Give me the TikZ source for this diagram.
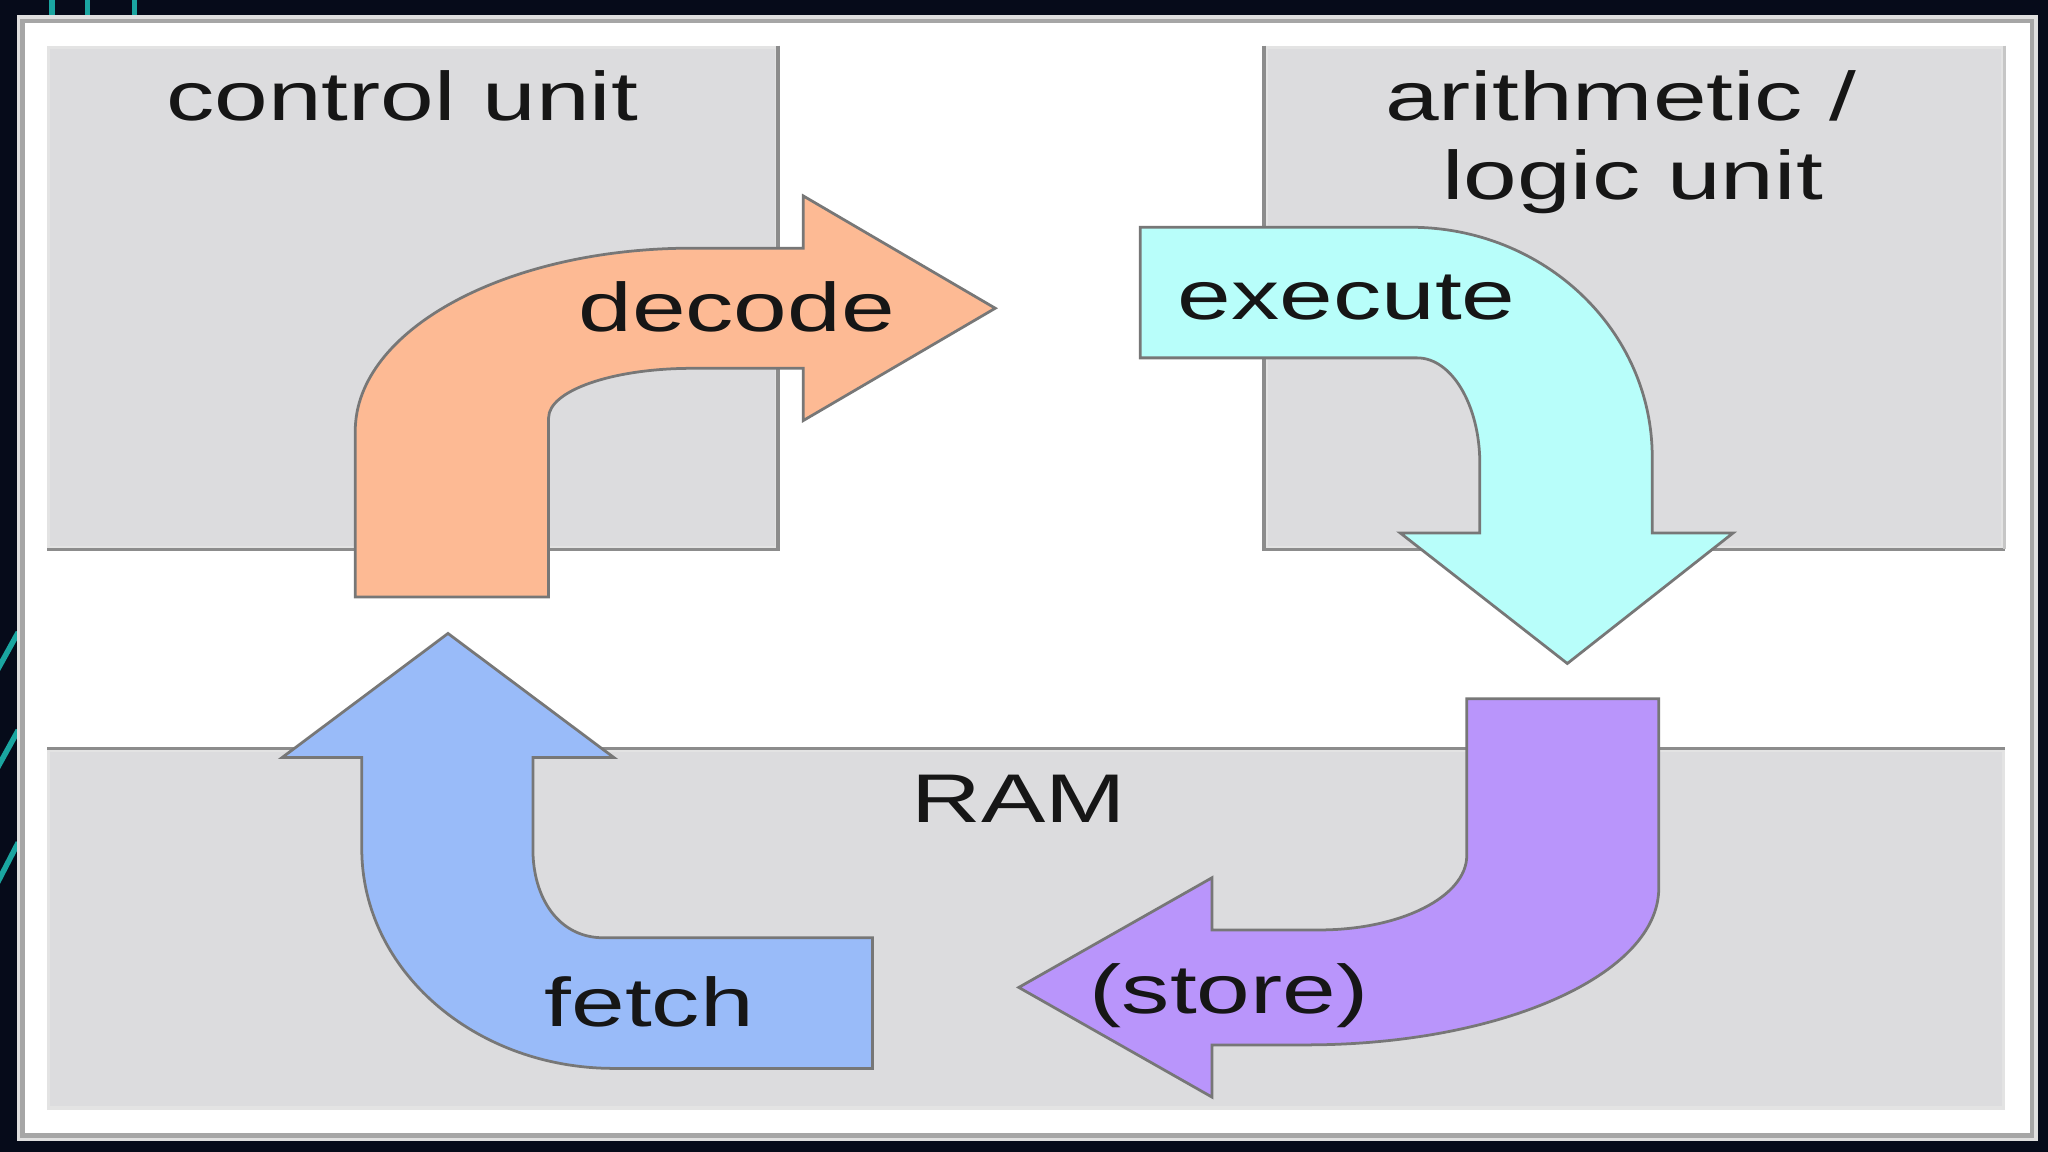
\documentclass[tikz,border=0pt]{standalone}
\usepackage{fontspec}
\setmainfont{Liberation Sans}
\definecolor{navy}{HTML}{060B1A}
\definecolor{teal2}{HTML}{1AA5A0}
\definecolor{panelgray}{HTML}{DCDCDE}
\definecolor{edgegray}{HTML}{8C8C8C}
\definecolor{orangefill}{HTML}{FDBA94}
\definecolor{cyanfill}{HTML}{B8FEFA}
\definecolor{bluefill}{HTML}{99BBF9}
\definecolor{purplefill}{HTML}{B995FB}
\definecolor{ink}{HTML}{161616}
\newcommand\widetext[1]{\scalebox{1.40}[1]{#1}}
\tikzset{
  panel/.style={draw=gray!22, fill=panelgray, line width=0.7pt, rectangle, inner sep=0pt, anchor=north west},
  paneledge/.style={draw=edgegray, line width=0.8pt},
  bigarrow/.style={draw=edgegray!85!black, line width=0.6pt, line join=miter},
  lbl/.style={text=ink, font=\fontsize{15}{18}\selectfont, inner sep=0pt, anchor=base},
}
\begin{document}
\begin{tikzpicture}[x=0.01cm,y=-0.01cm]
\useasboundingbox (0,0) rectangle (1568,882);
% background
\fill[navy] (0,0) rectangle (1568,882);
\draw[teal2, line width=1.2pt] (40,-2) -- (40,13) (67,-2) -- (67,13) (103,-2) -- (103,13);
\draw[teal2, line width=1.2pt] (-2,513) -- (14,484) (-2,588) -- (14,559) (-2,676) -- (14,645);
% frame
\node[draw=gray!70, fill=white, line width=1.4pt, rectangle, inner sep=0pt, anchor=north west,
      minimum width=15.39cm, minimum height=8.54cm] (frame) at (14,13) {};
\draw[gray!25, line width=0.8pt] ([shift={(0.07,-0.07)}]frame.north west) rectangle ([shift={(-0.07,0.07)}]frame.south east);
% panels
\node[panel, minimum width=5.57cm, minimum height=3.83cm] (cu) at (36,35) {};
\node[panel, minimum width=5.64cm, minimum height=3.83cm] (alu) at (968,35) {};
\node[panel, minimum width=14.96cm, minimum height=2.74cm] (ram) at (36,573) {};
\draw[paneledge] (cu.north east) -- (cu.south east) -- (cu.south west);
\draw[paneledge] (alu.north west) -- (alu.south west) -- (alu.south east);
\draw[draw=gray!45, line width=0.8pt] (alu.north east) -- (alu.south east);
\draw[paneledge] (ram.north west) -- (ram.north east);
% panel labels
\node[lbl] (cutext) at (308,92) {\widetext{control unit}};
\node[lbl] (alutext1) at (1241,92) {\widetext{arithmetic /}};
\node[lbl] (alutext2) at (1250,153) {\widetext{logic unit}};
\node[lbl] (ramtext) at (780,630) {\widetext{RAM}};
% decode arrow
\filldraw[bigarrow, fill=orangefill]
  (272,457) -- (272,330) .. controls (272,252.7) and (387.5,190) .. (530,190)
  -- (615,190) -- (615,150) -- (762,236) -- (615,322) -- (615,282) -- (530,282)
  .. controls (469.2,282) and (420,299) .. (420,320) -- (420,457) -- cycle;
% execute arrow
\filldraw[bigarrow, fill=cyanfill]
  (873,174) -- (1080,174) .. controls (1182.2,174) and (1265,252.8) .. (1265,350)
  -- (1265,408) -- (1327,408) -- (1200,508) -- (1072,408) -- (1133,408) -- (1133,355)
  .. controls (1133,310.3) and (1111.5,274) .. (1085,274) -- (873,274) -- cycle;
% store arrow
\filldraw[bigarrow, fill=purplefill]
  (1123,535) -- (1270,535) -- (1270,680) .. controls (1270,746.3) and (1149.1,800) .. (1000,800)
  -- (928,800) -- (928,840) -- (780,756) -- (928,672) -- (928,712) -- (1010,712)
  .. controls (1072.4,712) and (1123,686.5) .. (1123,655) -- cycle;
% fetch arrow
\filldraw[bigarrow, fill=bluefill]
  (668,718) -- (668,818) -- (470,818) .. controls (363.4,818) and (277,742.8) .. (277,650)
  -- (277,580) -- (216,580) -- (343,485) -- (470,580) -- (408,580) -- (408,650)
  .. controls (408,688) and (428,718) .. (462,718) -- cycle;
% arrow labels
\node[lbl] (decodetext) at (564,254) {\widetext{decode}};
\node[lbl] (executetext) at (1031,245) {\widetext{execute}};
\node[lbl] (fetchtext) at (497,786) {\widetext{fetch}};
\node[lbl] (storetext) at (941,776) {\widetext{(store)}};
\end{tikzpicture}
\end{document}
